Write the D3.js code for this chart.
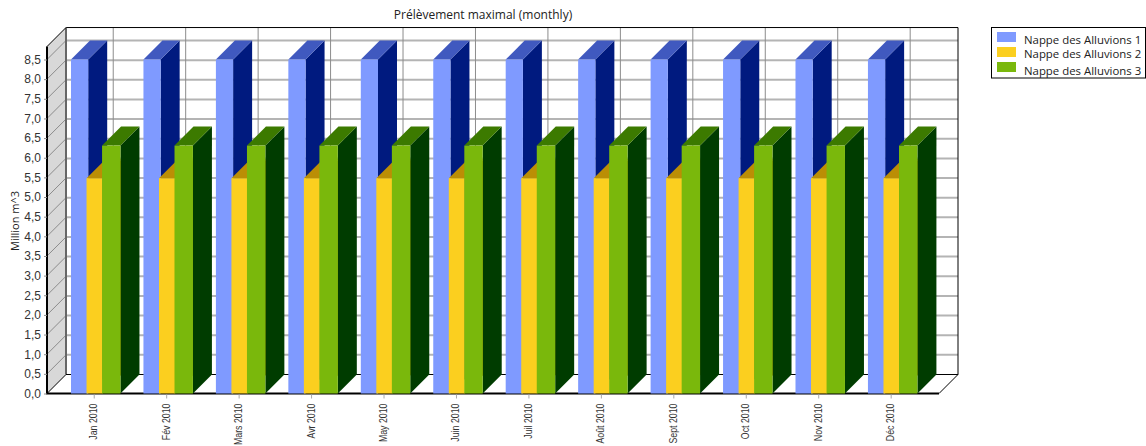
<!DOCTYPE html>
<html><head><meta charset="utf-8">
<script src="https://cdn.jsdelivr.net/npm/d3@7/dist/d3.min.js"></script>
<style>html,body{margin:0;padding:0;background:#fff}svg{display:block}</style></head>
<body><svg id="c" width="1146" height="446"></svg>
<script>
const months=["Jan 2010","Fév 2010","Mars 2010","Avr 2010","May 2010","Juin 2010","Juil 2010","Août 2010","Sept 2010","Oct 2010","Nov 2010","Déc 2010"];
const seriesNames=["Nappe des Alluvions 1","Nappe des Alluvions 2","Nappe des Alluvions 3"];
const alluvions1=[8.5,8.5,8.5,8.5,8.5,8.5,8.5,8.5,8.5,8.5,8.5,8.5];
const alluvions2=[5.48,5.48,5.48,5.48,5.48,5.48,5.48,5.48,5.48,5.48,5.48,5.48];
const alluvions3=[6.31,6.31,6.31,6.31,6.31,6.31,6.31,6.31,6.31,6.31,6.31,6.31];
const yTicks=d3.range(0,18).map(i=>i*0.5);
const title="Prélèvement maximal (monthly)";
const yTitle="Million m^3";
const seriesData=[alluvions1,alluvions2,alluvions3];
const frontColors=["#7f9aff","#fbcf1f","#7ab80c"];
const sideColors=["#001a7f","#b58e00","#003c00"];
const topColors=["#4059bf","#bb8e05","#3c7a00"];

const depth=19, L=47, R=939, Y0=393.5, yMaxV=8.83;
const svg=d3.select("#c");
const y=d3.scaleLinear().domain([0,8.5]).range([Y0,59.5]);
const x=d3.scaleBand().domain(months).range([58,927.4]);
const xs=d3.scaleBand().domain(seriesNames).range([0,46.6]);
const topY=y(yMaxV);

svg.append("polygon").attr("points",[[L,Y0],[L,topY],[L+depth,topY-depth],[L+depth,Y0-depth]].join(" ")).attr("fill","#d8d8d8");
yTicks.forEach(v=>{
  if(v===0)return;
  svg.append("line").attr("x1",L+depth).attr("x2",R+depth).attr("y1",y(v)-depth).attr("y2",y(v)-depth).attr("stroke","#b4b4b4").attr("stroke-width",2);
  svg.append("line").attr("x1",L).attr("x2",L+depth).attr("y1",y(v)).attr("y2",y(v)-depth).attr("stroke","#8c8c8c");
});
months.forEach(m=>{
  const px=x(m)+x.bandwidth()/2+depth;
  svg.append("line").attr("x1",px).attr("x2",px).attr("y1",topY-depth).attr("y2",Y0-depth).attr("stroke","#8c8c8c");
});
const fr=(a,b,w,c)=>svg.append("line").attr("x1",a[0]).attr("y1",a[1]).attr("x2",b[0]).attr("y2",b[1]).attr("stroke",c||"#000").attr("stroke-width",w||1);
fr([L+depth,topY-depth],[R+depth,topY-depth],1);
fr([R+depth,topY-depth],[R+depth,Y0-depth],1);
fr([L+depth,topY-depth],[L+depth,Y0-depth],2,"#666");
fr([L+depth,Y0-depth],[R+depth,Y0-depth],1);
fr([L,topY],[L+depth,topY-depth],1);
fr([L,Y0],[L+depth,Y0-depth],1);
fr([R,Y0],[R+depth,Y0-depth],1);
fr([L,topY],[L,Y0],2);
fr([L-1,Y0],[R,Y0],2);

months.forEach((m,i)=>{
  const g=svg.append("g");
  seriesNames.forEach((s,k)=>{
    const v=seriesData[k][i];
    const x0=x(m)+13+xs(s), w=k===2?18.4:(k===0?17.2:16), yt=y(v);
    const x1=x0+w;
    g.append("polygon").attr("points",[[x1,Y0],[x1,yt],[x1+depth,yt-depth],[x1+depth,Y0-depth]].join(" ")).attr("fill",sideColors[k]);
    g.append("polygon").attr("points",[[x0,yt],[x1,yt],[x1+depth,yt-depth],[x0+depth,yt-depth]].join(" ")).attr("fill",topColors[k]);
    g.append("rect").attr("x",x0).attr("y",yt).attr("width",w).attr("height",Y0-yt).attr("fill",frontColors[k]);
  });
});

const yAxis=d3.axisLeft(y).tickValues(yTicks).tickSize(3).tickSizeOuter(0).tickFormat(d=>d3.format(".1f")(d).replace(".",","));
const ga=svg.append("g").attr("transform",`translate(${L},0)`).call(yAxis);
ga.select(".domain").remove();
ga.selectAll("line").attr("stroke","#8c8c8c");
ga.selectAll("text").attr("font-family","Liberation Sans").attr("font-size",12).attr("fill","#333").attr("x",-6);
const xAxis=d3.axisBottom(x).tickSize(4).tickSizeOuter(0);
const gx=svg.append("g").attr("transform",`translate(0,${Y0+1})`).call(xAxis);
gx.select(".domain").remove();
gx.selectAll("line").attr("stroke","#aaa");
gx.selectAll("text").attr("font-family","Liberation Sans").attr("font-size",11).attr("fill","#333")
  .attr("text-anchor","end").attr("dy",0).attr("y",0).attr("x",0)
  .attr("transform","translate(3,9) rotate(-90) scale(0.8,1)");
svg.append("text").attr("x",483).attr("y",18.5).attr("text-anchor","middle").attr("font-family","Open Sans").attr("font-size",12).attr("fill","#222").text(title);
svg.append("text").attr("transform","translate(18.5,221) rotate(-90)").attr("text-anchor","middle").attr("font-family","Open Sans").attr("font-size",11).attr("fill","#222").text(yTitle);
const lg=svg.append("g");
lg.append("rect").attr("x",991.5).attr("y",27.5).attr("width",154).attr("height",50.5).attr("fill","#fff").attr("stroke","#000");
seriesNames.forEach((s,k)=>{
  lg.append("rect").attr("x",997).attr("y",32+k*15).attr("width",19).attr("height",10).attr("fill",frontColors[k]);
  lg.append("text").attr("x",1024).attr("y",[44,58,75][k]).attr("font-family","Open Sans").attr("font-size",11.4).attr("fill","#222").text(s);
});
</script></body></html>
